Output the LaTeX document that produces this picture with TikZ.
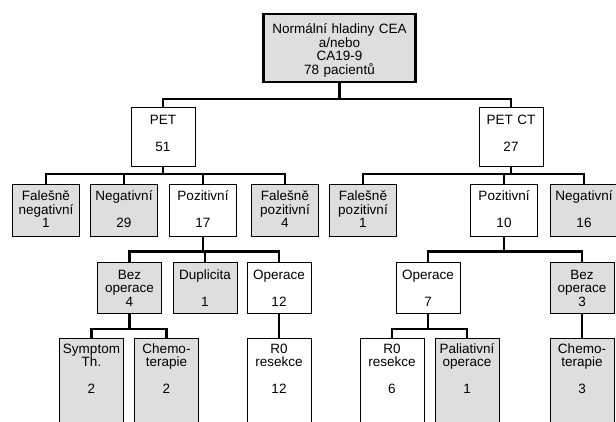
\documentclass[tikz,border=0pt]{standalone}
\usepackage{fontspec}
\setmainfont{Liberation Sans}
\usepackage{xcolor}
\usepackage{tikz}

\begin{document}
\begin{tikzpicture}[x=1pt,y=-1pt,
		box/.style={draw, line width=0.9pt, anchor=north, align=center, inner xsep=1pt, inner ysep=3pt,
			text height=14pt, font=\fontsize{13.5}{13.5}\selectfont},
		grey/.style={fill=black!13},
		rootbox/.style={box, grey, line width=2.4pt, text width=150pt, text height=17pt, text depth=45pt},
		lvone/.style={box, text width=62pt, text depth=39pt},
		lvtwo/.style={box, text width=65pt, text depth=32pt},
		lvthree/.style={box, text width=62pt, text depth=31pt},
		lvfour/.style={box, text width=62pt, text height=12pt, text depth=82pt},
		conn/.style={line width=2.2pt}]
			\useasboundingbox (0,0) rectangle (616,421);
			
			\node[rootbox] (top) at (339.5,12.7) {Normální hladiny CEA\\a/nebo\\CA19-9\\78 pacientů};
			
			\node[lvone] (pet) at (163,107) {PET\\~\\51};
			\node[lvone] (petct) at (511,107) {PET CT\\~\\27};
			
			\node[lvtwo, grey] (fnl) at (46,183.5) {Falešně\\negativní\\1};
			\node[lvtwo, grey] (negl) at (124,183.5) {Negativní\\~\\29};
			\node[lvtwo] (pozl) at (203,183.5) {Pozitivní\\~\\17};
			\node[lvtwo, grey] (fpl) at (285,183.5) {Falešně\\pozitivní\\4};
			\node[lvtwo, grey] (fpr) at (363,183.5) {Falešně\\pozitivní\\1};
			\node[lvtwo] (pozr) at (504,183.5) {Pozitivní\\~\\10};
			\node[lvtwo, grey] (negr) at (584,183.5) {Negativní\\~\\16};
			
			\node[lvthree, grey] (bezl) at (129.5,261.7) {Bez\\operace\\4};
			\node[lvthree, grey] (dup) at (205,261.7) {Duplicita\\~\\1};
			\node[lvthree] (opl) at (279,261.7) {Operace\\~\\12};
			\node[lvthree] (opr) at (428,261.7) {Operace\\~\\7};
			\node[lvthree, grey] (bezr) at (582,261.7) {Bez\\operace\\3};
			
			\node[lvfour, grey] (sym) at (91.5,338) {Symptom\\Th.\\~\\2};
			\node[lvfour, grey] (chl) at (166.5,338) {Chemo-\\terapie\\~\\2};
			\node[lvfour] (r0l) at (279,338) {R0\\resekce\\~\\12};
			\node[lvfour] (r0r) at (392,338) {R0\\resekce\\~\\6};
			\node[lvfour, grey] (pal) at (467,338) {Paliativní\\operace\\~\\1};
			\node[lvfour, grey] (chr) at (582,338) {Chemo-\\terapie\\~\\3};
			
			\draw[conn] (top.south) -- ++(0,16) -| (pet.north);
			\draw[conn] (top.south) -- ++(0,16) -| (petct.north);
			
			\draw[conn] (pet.south) -- ++(0,7) -| (fnl.north);
			\draw[conn] (pet.south) -- ++(0,7) -| (negl.north);
			\draw[conn] (pet.south) -- ++(0,7) -| (pozl.north);
			\draw[conn] (pet.south) -- ++(0,7) -| (fpl.north);
			\draw[conn] (petct.south) -- ++(0,7) -| (fpr.north);
			\draw[conn] (petct.south) -- ++(0,7) -| (pozr.north);
			\draw[conn] (petct.south) -- ++(0,7) -| (negr.north);
			
			\draw[conn] (pozl.south) -- ++(0,15) -| (bezl.north);
			\draw[conn] (pozl.south) -- ++(0,15) -| (dup.north);
			\draw[conn] (pozl.south) -- ++(0,15) -| (opl.north);
			\draw[conn] (pozr.south) -- ++(0,15) -| (opr.north);
			\draw[conn] (pozr.south) -- ++(0,15) -| (bezr.north);
			
			\draw[conn] (bezl.south) -- ++(0,15) -| (sym.north);
			\draw[conn] (bezl.south) -- ++(0,15) -| (chl.north);
			\draw[conn] (opl.south) -- (r0l.north);
			\draw[conn] (opr.south) -- ++(0,15) -| (r0r.north);
			\draw[conn] (opr.south) -- ++(0,15) -| (pal.north);
			\draw[conn] (bezr.south) -- (chr.north);
		\end{tikzpicture}
\end{document}
